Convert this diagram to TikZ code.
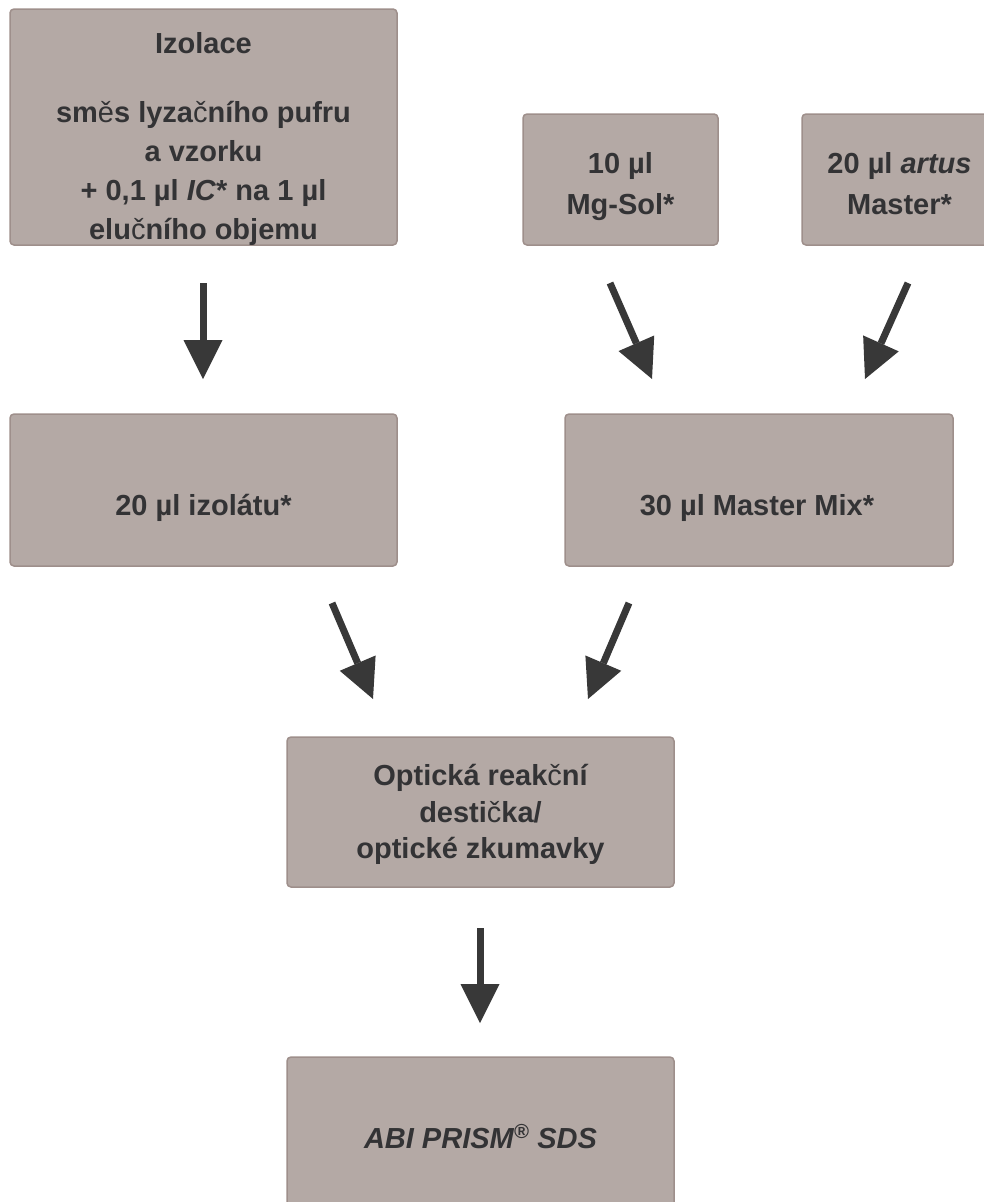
\documentclass[tikz,border=0pt]{standalone}
\usepackage{fontspec}
\setmainfont{Liberation Sans}
\usetikzlibrary{arrows.meta}
\definecolor{boxfill}{HTML}{B4A9A5}
\definecolor{boxline}{HTML}{9E8F8B}
\definecolor{txtcol}{HTML}{333335}
\definecolor{arrcol}{HTML}{383838}
\newcommand\thinch[1]{{\mdseries #1}}
\begin{document}
\begin{tikzpicture}[x=1pt,y=-1pt,
  box/.style={draw=boxline,line width=1.5pt,fill=boxfill,rounded corners=4pt,inner sep=0pt},
  lbl/.style={anchor=base,text=txtcol,font=\fontsize{29}{35}\selectfont\bfseries,inner sep=0pt},
  flow/.style={draw=arrcol,line width=7pt,-{Triangle[width=39pt,length=39pt,line width=0pt]}}]
\useasboundingbox (0,0) rectangle (984,1202);
\clip (0,0) rectangle (984,1202);
% boxes
\node[box,minimum width=387pt,minimum height=236pt] (izol) at (203.5,127) {};
\node[box,minimum width=195pt,minimum height=131pt] (mg) at (620.5,179.5) {};
\node[box,minimum width=195pt,minimum height=131pt] (artus) at (899.5,179.5) {};
\node[box,minimum width=387pt,minimum height=152pt] (izolat) at (203.5,490) {};
\node[box,minimum width=388pt,minimum height=152pt] (mix) at (759,490) {};
\node[box,minimum width=387pt,minimum height=150pt] (opt) at (480.5,812) {};
\node[box,minimum width=387pt,minimum height=163pt] (abi) at (480.5,1138.5) {};
% texts
\node[lbl] (izol1) at (203.5,53) {Izolace};
\node[lbl] (izol2) at (203.5,122) {sm\thinch{ě}s lyza\thinch{č}ního pufru};
\node[lbl] (izol3) at (203.5,161) {a vzorku};
\node[lbl] (izol4) at (203.5,200) {+ 0,1 µl \textit{IC}* na 1 µl};
\node[lbl] (izol5) at (203.5,239) {elu\thinch{č}ního objemu};
\node[lbl] (mg1) at (620.5,173) {10 µl};
\node[lbl] (mg2) at (620.5,214) {Mg-Sol*};
\node[lbl] (artus1) at (899.5,173) {20 µl \textit{artus}};
\node[lbl] (artus2) at (899.5,214) {Master*};
\node[lbl] (izolat1) at (203.5,515) {20 µl izolátu*};
\node[lbl] (mix1) at (757,515) {30 µl Master Mix*};
\node[lbl] (opt1) at (480.5,785) {Optická reak\thinch{č}ní};
\node[lbl] (opt2) at (480.5,822) {desti\thinch{č}ka/};
\node[lbl] (opt3) at (480.5,858) {optické zkumavky};
\node[lbl] (abi1) at (480.5,1148) {\textit{ABI PRISM\textsuperscript{®} SDS}};
% arrow end points
\coordinate (a1s) at (203,283); \coordinate (a1e) at (203,379);
\coordinate (a2s) at (610,283); \coordinate (a2e) at (652,379);
\coordinate (a3s) at (908,283); \coordinate (a3e) at (865,379);
\coordinate (a4s) at (332,603); \coordinate (a4e) at (373,699);
\coordinate (a5s) at (629,603); \coordinate (a5e) at (588,699);
\coordinate (a6s) at (480,928); \coordinate (a6e) at (480,1023);
\draw[flow] (a1s) -- (a1e);
\draw[flow] (a2s) -- (a2e);
\draw[flow] (a3s) -- (a3e);
\draw[flow] (a4s) -- (a4e);
\draw[flow] (a5s) -- (a5e);
\draw[flow] (a6s) -- (a6e);
\end{tikzpicture}
\end{document}
